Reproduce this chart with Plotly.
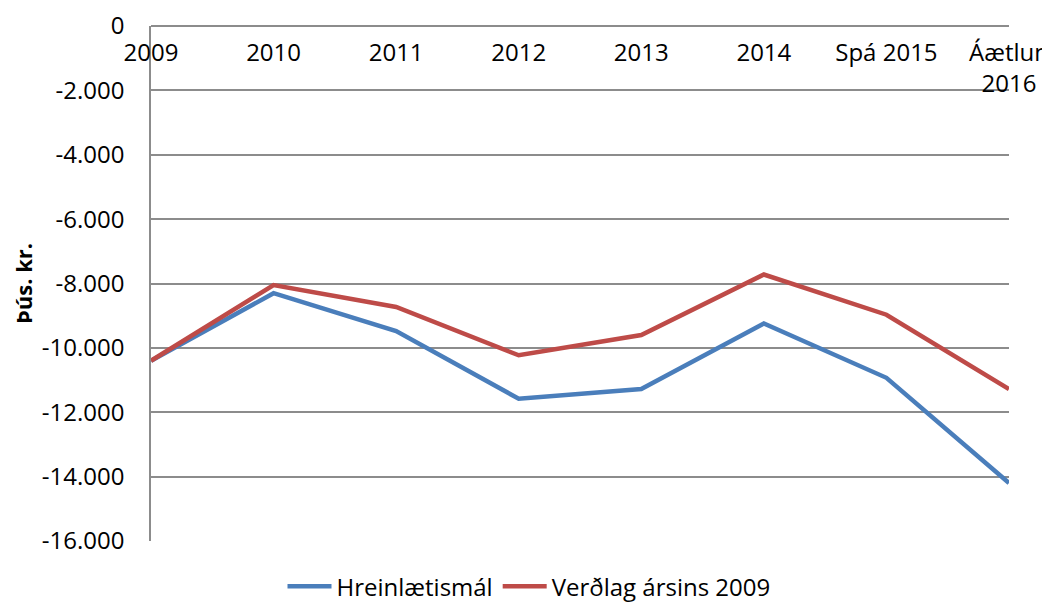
import plotly.graph_objects as go

categories = ["2009", "2010", "2011", "2012", "2013", "2014", "Spá 2015", "Áætlun<br>2016"]
hreinlaetismal = [-10400, -8300, -9480, -11580, -11280, -9240, -10930, -14200]
verdlag_2009 = [-10400, -8050, -8730, -10230, -9600, -7720, -8970, -11280]
y_ticks = [0, -2000, -4000, -6000, -8000, -10000, -12000, -14000, -16000]
y_tick_labels = ["0", "-2.000", "-4.000", "-6.000", "-8.000", "-10.000", "-12.000", "-14.000", "-16.000"]

FONT = "Open Sans"
GRID = "#8c8c8c"

fig = go.Figure()
fig.add_trace(go.Scatter(x=categories, y=hreinlaetismal, name="Hreinlætismál",
                         mode="lines", line=dict(color="#4a7ebb", width=4.5)))
fig.add_trace(go.Scatter(x=categories, y=verdlag_2009, name="Verðlag ársins 2009",
                         mode="lines", line=dict(color="#be4b48", width=4.5)))

# the page body adds an 8px margin, so the figure is 8px smaller than the window
fig.update_layout(
    width=1042, height=597,
    margin=dict(l=143, r=41, t=18, b=64, autoexpand=False),
    paper_bgcolor="white", plot_bgcolor="white",
    font=dict(family=FONT, size=24, color="black"),
    showlegend=True,
    legend=dict(orientation="h", x=0.5, xanchor="center", xref="container",
                y=-0.045, yanchor="top",
                font=dict(size=24), itemwidth=44, tracegroupgap=0,
                bgcolor="rgba(0,0,0,0)"),
    xaxis=dict(
        type="category", range=[0, 7], anchor="free", position=1, side="bottom",
        showgrid=False, showline=False, ticks="", zeroline=False,
        ticklabelstandoff=10, automargin=False,
    ),
    yaxis=dict(
        range=[-16000, 0], tickvals=y_ticks, ticktext=y_tick_labels,
        showgrid=True, gridcolor=GRID, gridwidth=1.5,
        showline=True, linecolor=GRID, linewidth=1.5,
        zeroline=True, zerolinecolor=GRID, zerolinewidth=1.5,
        ticks="", ticklabelstandoff=20, automargin=False,
        title=dict(text="<b>Þús. kr.</b>", font=dict(size=22)),
    ),
)

fig.write_html("out.html")
